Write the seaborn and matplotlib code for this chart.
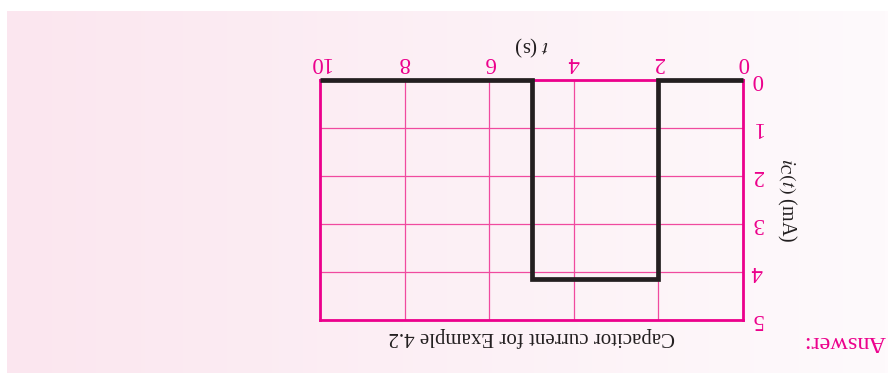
import numpy as np
import matplotlib
matplotlib.use("Agg")
import matplotlib.pyplot as plt
from matplotlib.colors import LinearSegmentedColormap
import seaborn as sns

# capacitor current waveform, t in s, i_C in mA
t_points = [0, 2, 2, 5, 5, 10]
i_points = [0, 0, 4.15, 4.15, 0, 0]

x_ticks = [0, 2, 4, 6, 8, 10]
y_ticks = [0, 1, 2, 3, 4, 5]

title_text = "Capacitor current for Example 4.2"
x_label = "$t$ (s)"
y_label = r"$i_{\mathrm{C}}(t)$ (mA)"
answer_text = "Answer:"

sns.set_style("white")
plt.rcParams["font.family"] = ["Liberation Serif", "DejaVu Serif"]
plt.rcParams["mathtext.fontset"] = "stix"

magenta = "#ec008c"
grid_pink = "#f04a9f"
ink = "#231f20"

W, H = 891, 374
fig = plt.figure(figsize=(W / 100, H / 100), dpi=100, facecolor="white")

# pink panel behind everything, fading out to the right
bg = fig.add_axes([7 / W, 1 - 373 / H, 881 / W, 362 / H], zorder=0)
cmap = LinearSegmentedColormap.from_list("panel", ["#fbe6ef", "#fefafc"])
bg.imshow(np.linspace(0, 1, 256)[None, :], cmap=cmap, aspect="auto")
bg.axis("off")

# the whole page is printed upside down: axes inverted, text turned 180
ax = fig.add_axes([320 / W, 1 - 320 / H, 423 / W, 240 / H], zorder=1)
ax.patch.set_alpha(0)

sns.lineplot(x=t_points, y=i_points, sort=False, estimator=None,
             ax=ax, color=ink, lw=3.4, zorder=5)
for ln in ax.lines:
    ln.set_clip_on(False)
    ln.set_solid_joinstyle("miter")
    ln.set_solid_capstyle("butt")

ax.set_xlim(10, 0)
ax.set_ylim(5, 0)
ax.set_xticks(x_ticks)
ax.set_yticks(y_ticks)
ax.grid(True, color=grid_pink, lw=0.9)
for sp in ax.spines.values():
    sp.set_visible(True)
    sp.set_color(magenta)
    sp.set_linewidth(2)

ax.tick_params(axis="x", bottom=False, top=False, labelbottom=False,
               labeltop=True, labelrotation=180, labelsize=16.5,
               labelcolor=magenta, length=0, pad=5)
ax.tick_params(axis="y", left=False, right=False, labelleft=False,
               labelright=True, labelrotation=180, labelsize=16.5,
               labelcolor=magenta, length=0, pad=6)
for lbl in ax.get_yticklabels():
    lbl.set_va("center")

ax.set_xlabel(x_label, fontsize=15, color=ink, rotation=180)
ax.xaxis.set_label_coords(0.501, 1.142)
ax.xaxis.label.set_va("center")
ax.set_ylabel(y_label, fontsize=14.5, color=ink, rotation=270)
ax.yaxis.set_label_coords(1.104, 0.5)
ax.yaxis.label.set_va("center")
ax.yaxis.label.set_ha("center")

ax.text(0.5, -0.071, title_text, transform=ax.transAxes, rotation=180,
        ha="center", va="center", fontsize=15, color=ink)
ax.text(1.241, -0.0875, answer_text, transform=ax.transAxes, rotation=180,
        ha="center", va="center", fontsize=17.5, color=magenta)

fig.savefig("out.png", dpi=100)
